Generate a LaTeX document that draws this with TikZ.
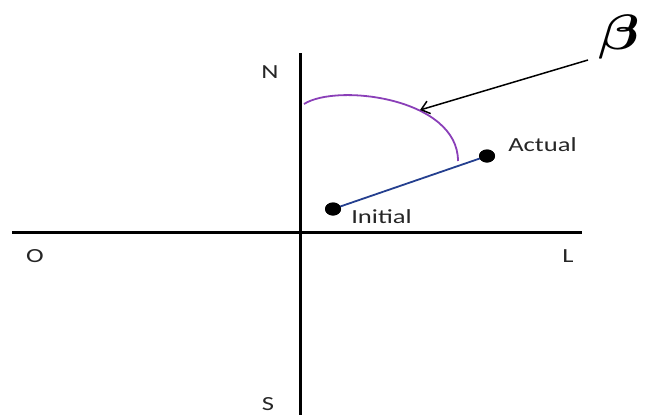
\documentclass[tikz,border=0pt]{standalone}
\usepackage{fontspec}
\usepackage{bm}
\setmainfont{Carlito}
\usetikzlibrary{arrows.meta,shapes.geometric}
\definecolor{arcpurple}{HTML}{8A3FB8}
\definecolor{segblue}{HTML}{243F8F}
\definecolor{labelgray}{HTML}{262626}
\tikzset{
  axis/.style={line width=3pt, black},
  lbl/.style={font=\fontsize{20}{24}\selectfont, text=labelgray, inner sep=0pt, xscale=1.33},
  dot/.style={ellipse, fill=black, minimum width=16pt, minimum height=13pt, inner sep=0pt},
  pointer/.style={line width=1.5pt, -{Straight Barb[length=8pt,width=13pt,line width=1.5pt]}},
}
\begin{document}
\begin{tikzpicture}[x=1pt,y=-1pt]
\useasboundingbox (0,0) rectangle (647,415);
% axes
\coordinate (ntop) at (300,53);
\coordinate (sbot) at (300,415);
\coordinate (wend) at (12,232);
\coordinate (eend) at (582,232);
\draw[axis] (ntop) -- (sbot);
\draw[axis] (wend) -- (eend);
% axis labels
\node[lbl] (N) at (270,72) {N};
\node[lbl, anchor=south] (S) at (268,411) {S};
\node[lbl] (O) at (35,256) {O};
\node[lbl] (L) at (568,256) {L};
% arc
\coordinate (arcA) at (304,104);
\coordinate (arcB) at (458,161);
\draw[arcpurple, line width=1.8pt] (arcA) .. controls (337,83) and (458,98) .. (arcB);
% segment and points
\node[dot] (ini) at (333,209) {};
\node[dot] (act) at (487,156) {};
\draw[segblue, line width=1.8pt] (ini.center) -- (act.center);
\node[dot] at (333,209) {};
\node[dot] at (487,156) {};
\node[lbl, anchor=west] (initlbl) at (351,217) {Initial};
\node[lbl, anchor=west] (actlbl) at (508,145) {Actual};
% beta and pointer
\node[inner sep=0pt, xscale=2.4, yscale=2.0, font=\Huge] (beta) at (619,37) {$\bm{\beta}$};
\coordinate (ptrstart) at (588,60);
\coordinate (ptrtip) at (420,110);
\draw[pointer] (ptrstart) -- (ptrtip);
\end{tikzpicture}
\end{document}
